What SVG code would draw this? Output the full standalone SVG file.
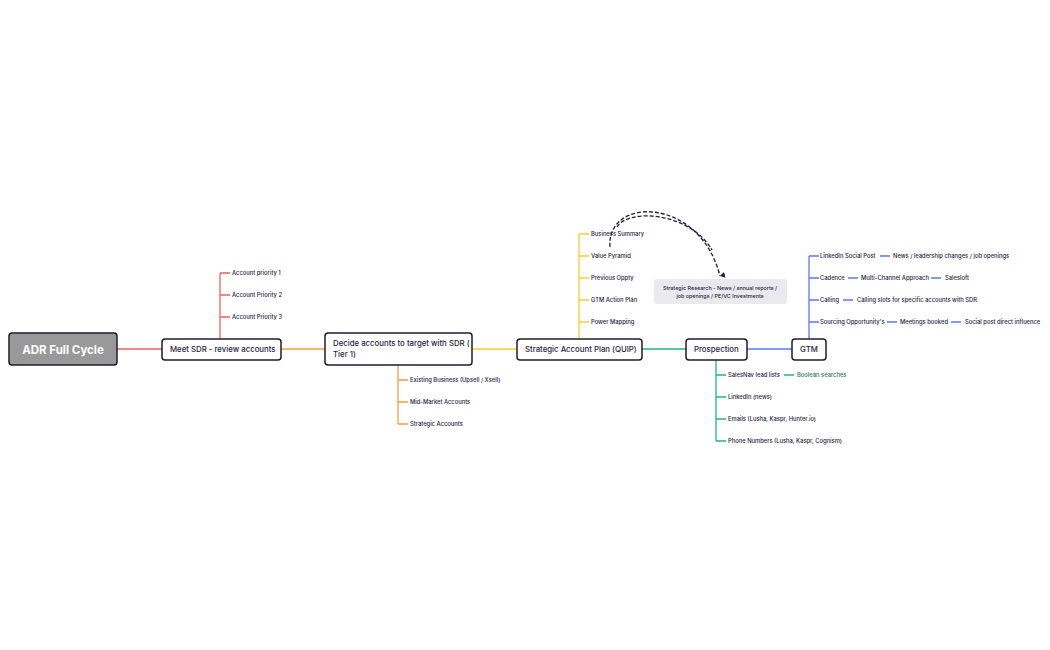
<svg xmlns="http://www.w3.org/2000/svg" width="1050" height="650" viewBox="0 0 1050 650">
<style>
text{font-family:Inter,"Liberation Sans",sans-serif;fill:#1e1e3c}
.n rect{fill:#fff;stroke:#1e1e28;stroke-width:1.5}
.n text{font-size:7.8px;font-weight:500}
.l{font-size:5.8px;font-weight:500}
.c path{fill:none;stroke-width:1.3}
.r{stroke:#f06060}.o{stroke:#f5a040}.y{stroke:#f5d030}.g{stroke:#20b880}.b{stroke:#5a78f5}
</style>
<defs><marker id="ah" markerWidth="6" markerHeight="6" refX="3" refY="5" orient="auto-start-reverse" markerUnits="userSpaceOnUse"><path d="M0,0 L3,5 L6,0" fill="#1e1e3c"/></marker></defs>
<rect width="1050" height="650" fill="#fff"/>
<g class="c">
<path class="r" d="M117,349H162M220,339V273M220,273h10M220,295h10M220,317h10"/>
<path class="o" d="M281,349H325M398,365V424M398,380h10M398,402h10M398,424h10"/>
<path class="y" d="M472,349H517M579,339V234M579,234h10M579,256h10M579,278h10M579,300h10M579,322h10"/>
<path class="g" d="M642,349H686M716,360V441M716,375h10M716,397h10M716,419h10M716,441h10M784,375h10"/>
<path class="b" d="M747,349H792M809,339V256M809,256h10M809,278h10M809,300h10M809,322h10M880,256h10M848,278h10M931,278h10M843,300h10M887,322h10M951,322h10"/>
<path d="M610,247 C606,196 700,196 720,276" stroke="#1e1e3c" stroke-dasharray="4 2" marker-end="url(#ah)"/>
<path d="M617,227 C628,208 690,212 712,250" stroke="#1e1e3c" stroke-dasharray="4 2"/>
</g>
<g id="adr"><rect x="9" y="333" width="108" height="32" rx="3" fill="#999" stroke="#1e1e28" stroke-width="1.5"/><text x="63" y="353.5" text-anchor="middle" style="fill:#fff;font-size:11.5px;font-weight:700">ADR Full Cycle</text></g>
<g id="meet" class="n"><rect x="162" y="339" width="119" height="21" rx="3"/><text x="170" y="352">Meet SDR - review accounts</text></g>
<g id="decide" class="n"><rect x="325" y="333" width="147" height="32" rx="3"/><text x="333" y="346">Decide accounts to target with SDR (</text><text x="333" y="357">Tier 1)</text></g>
<g id="sap" class="n"><rect x="517" y="339" width="125" height="21" rx="3"/><text x="525" y="352">Strategic Account Plan (QUIP)</text></g>
<g id="pros" class="n"><rect x="686" y="339" width="61" height="21" rx="3"/><text x="694" y="352">Prospection</text></g>
<g id="gtm" class="n"><rect x="792" y="339" width="34" height="21" rx="3"/><text x="809" y="352" text-anchor="middle">GTM</text></g>
<g id="note"><rect x="654" y="279" width="133" height="25" rx="3" fill="#e9e9ee"/><text class="l" x="720" y="290" text-anchor="middle" style="font-size:5.4px">Strategic Research - News / annual reports /</text><text class="l" x="720" y="298" text-anchor="middle" style="font-size:5.4px">job openings / PE/VC Investments</text></g>
<g id="leaves" class="l">
<text x="232" y="275">Account priority 1</text><text x="232" y="297">Account Priority 2</text><text x="232" y="319">Account Priority 3</text>
<text x="410" y="382">Existing Business (Upsell / Xsell)</text><text x="410" y="404">Mid-Market Accounts</text><text x="410" y="426">Strategic Accounts</text>
<text x="591" y="236">Business Summary</text><text x="591" y="258">Value Pyramid</text><text x="591" y="280">Previous Oppty</text><text x="591" y="302">GTM Action Plan</text><text x="591" y="324">Power Mapping</text>
<text x="728" y="377">SalesNav lead lists</text><text x="797" y="377" style="fill:#2a7a50">Boolean searches</text><text x="728" y="399">LinkedIn (news)</text><text x="728" y="421">Emails (Lusha, Kaspr, Hunter.io)</text><text x="728" y="443">Phone Numbers (Lusha, Kaspr, Cognism)</text>
<text x="820" y="258">LinkedIn Social Post</text><text x="893" y="258">News / leadership changes / job openings</text>
<text x="820" y="280">Cadence</text><text x="861" y="280">Multi-Channel Approach</text><text x="945" y="280">Salesloft</text>
<text x="820" y="302">Calling</text><text x="857" y="302">Calling slots for specific accounts with SDR</text>
<text x="820" y="324">Sourcing Opportunity's</text><text x="900" y="324">Meetings booked</text><text x="965" y="324">Social post direct influence</text>
</g>
</svg>
